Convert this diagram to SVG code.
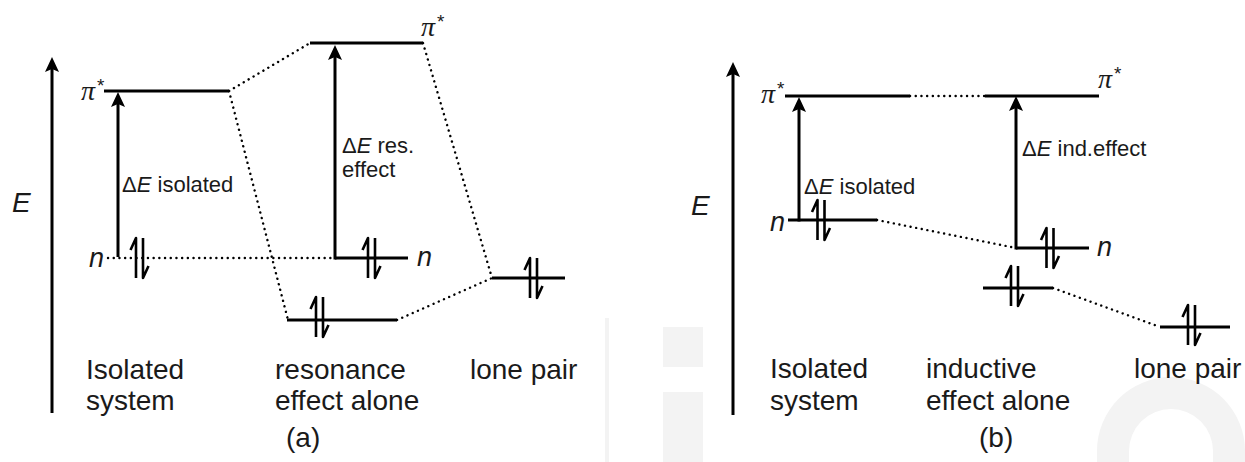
<svg xmlns="http://www.w3.org/2000/svg" width="1245" height="462" viewBox="0 0 1245 462">
<style>
.lvl{stroke:#000;stroke-width:3;fill:none}
.ax{stroke:#000;stroke-width:3;fill:none}
.dot{stroke:#000;stroke-width:2.4;fill:none;stroke-linecap:round;stroke-dasharray:0.1 5.6}
.el{stroke:#000;stroke-width:2.6;fill:none;stroke-linejoin:round}
.t{font-family:"Liberation Sans",Arial,sans-serif;fill:#1a1a1a}
.lab{font-size:28px}
.sm{font-size:22px}
.it{font-style:italic}
.pi{font-family:"Liberation Serif","Times New Roman",serif;font-style:italic;font-size:28px;fill:#1a1a1a}
.ast{font-family:"Liberation Sans",Arial,sans-serif;font-size:19px;fill:#1a1a1a}
.wm{fill:#f3f3f3}
</style>
<defs>
<marker id="ah" viewBox="-11 -8 18 16" refX="0" refY="0" markerWidth="18" markerHeight="16" markerUnits="userSpaceOnUse" orient="auto">
<path d="M6,0 L-9,-7 L-6,0 L-9,7 Z" fill="#000"/>
</marker>
<g id="pair">
<path d="M-3.5,20 V-20 L-9,-8"/>
<path d="M3.5,-20 V20 L9,8"/>
</g>
</defs>

<g id="watermark">
<rect class="wm" x="663" y="327" width="40" height="40"/>
<rect class="wm" x="663" y="392" width="40" height="70"/>
<path class="wm" d="M1097,451 a74,74 0 0 1 148,0 V462 H1213 V451 a42,42 0 0 0 -84,0 V462 H1097 Z"/>
<rect class="wm" x="605" y="318" width="4" height="144"/>
</g>

<g id="panel-a">
<g id="axis-a">
<line class="ax" x1="52" y1="413" x2="52" y2="63" marker-end="url(#ah)"/>
<text class="t lab it" x="12" y="212">E</text>
</g>
<g id="a-isolated-pistar">
<line class="lvl" x1="104" y1="91" x2="229" y2="91"/>
<text class="pi" x="81" y="100">π</text>
<text class="ast" x="97" y="92">*</text>
</g>
<g id="a-isolated-n">
<text class="t it" font-size="27" x="89" y="267">n</text>
<use href="#pair" x="139.5" y="258" class="el"/>
</g>
<g id="a-res-pistar">
<line class="lvl" x1="310" y1="43" x2="423" y2="43"/>
<text class="pi" x="421" y="36">π</text>
<text class="ast" x="437" y="28">*</text>
</g>
<g id="a-res-n">
<line class="lvl" x1="335" y1="258" x2="408" y2="258"/>
<text class="t it" font-size="27" x="417" y="266">n</text>
<use href="#pair" x="371.5" y="258" class="el"/>
</g>
<g id="a-res-low">
<line class="lvl" x1="287" y1="320" x2="397" y2="320"/>
<use href="#pair" x="319.5" y="317" class="el"/>
</g>
<g id="a-lonepair">
<line class="lvl" x1="492" y1="278" x2="565" y2="278"/>
<use href="#pair" x="533.5" y="278" class="el"/>
</g>
<g id="a-labels">
<text class="t lab" x="86" y="379">Isolated</text>
<text class="t lab" x="86" y="410">system</text>
<text class="t lab" x="275" y="379">resonance</text>
<text class="t lab" x="275" y="410">effect alone</text>
<text class="t lab" x="470" y="379">lone pair</text>
<text class="t lab" x="286" y="447">(a)</text>
<text class="t sm" x="122" y="192">Δ<tspan class="it">E</tspan> isolated</text>
<text class="t sm" x="342" y="153">Δ<tspan class="it">E</tspan> res.</text>
<text class="t sm" x="342" y="177">effect</text>
</g>
</g>

<g id="panel-b">
<g id="axis-b">
<line class="ax" x1="733" y1="415" x2="733" y2="68" marker-end="url(#ah)"/>
<text class="t lab it" x="691" y="215">E</text>
</g>
<g id="b-isolated-pistar">
<line class="lvl" x1="785" y1="96" x2="910" y2="96"/>
<text class="pi" x="761" y="103">π</text>
<text class="ast" x="777" y="95">*</text>
</g>
<g id="b-isolated-n">
<line class="lvl" x1="788" y1="220" x2="877" y2="220"/>
<text class="t it" font-size="27" x="770" y="231">n</text>
<use href="#pair" x="821" y="220" class="el"/>
</g>
<g id="b-ind-pistar">
<line class="lvl" x1="985" y1="96" x2="1099" y2="96"/>
<text class="pi" x="1098" y="88">π</text>
<text class="ast" x="1114" y="80">*</text>
</g>
<g id="b-ind-n">
<line class="lvl" x1="1016" y1="248" x2="1089" y2="248"/>
<text class="t it" font-size="27" x="1097" y="256">n</text>
<use href="#pair" x="1050" y="248" class="el"/>
</g>
<g id="b-ind-low">
<line class="lvl" x1="983" y1="288" x2="1053" y2="288"/>
<use href="#pair" x="1014.5" y="286" class="el"/>
</g>
<g id="b-lonepair">
<line class="lvl" x1="1160" y1="327" x2="1230" y2="327"/>
<use href="#pair" x="1191.5" y="325" class="el"/>
</g>
<g id="b-labels">
<text class="t lab" x="770" y="378">Isolated</text>
<text class="t lab" x="770" y="410">system</text>
<text class="t lab" x="926" y="378">inductive</text>
<text class="t lab" x="926" y="410">effect alone</text>
<text class="t lab" x="1134" y="378">lone pair</text>
<text class="t lab" x="979" y="447">(b)</text>
<text class="t sm" x="804" y="194">Δ<tspan class="it">E</tspan> isolated</text>
<text class="t sm" x="1022" y="156">Δ<tspan class="it">E</tspan> ind.effect</text>
</g>
</g>

<g id="connectors">
<line class="ax" x1="118" y1="257" x2="118" y2="98" marker-end="url(#ah)"/>
<line class="ax" x1="335" y1="259.5" x2="335" y2="51" marker-end="url(#ah)"/>
<line class="ax" x1="799" y1="221.5" x2="799" y2="103" marker-end="url(#ah)"/>
<line class="ax" x1="1016" y1="249.5" x2="1016" y2="102" marker-end="url(#ah)"/>
<line class="dot" x1="108" y1="258" x2="335" y2="258"/>
<line class="dot" x1="229" y1="91" x2="310" y2="43"/>
<line class="dot" x1="229" y1="91" x2="288" y2="320"/>
<line class="dot" x1="423" y1="43" x2="492" y2="278"/>
<line class="dot" x1="397" y1="320" x2="492" y2="278"/>
<line class="dot" x1="910" y1="96" x2="985" y2="96"/>
<line class="dot" x1="877" y1="220" x2="1016" y2="248"/>
<line class="dot" x1="1053" y1="288" x2="1160" y2="327"/>
</g>
</svg>
